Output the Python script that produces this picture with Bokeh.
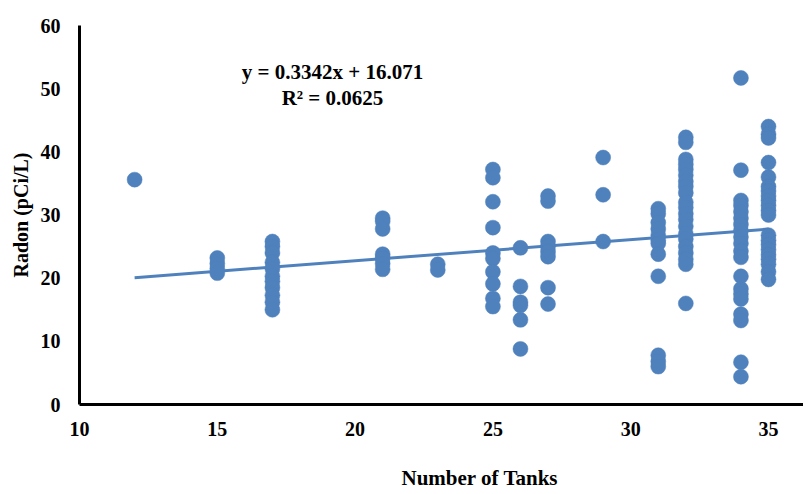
from bokeh.plotting import figure
from bokeh.models import Range1d, Title, Label, FixedTicker
from bokeh.embed import file_html
from bokeh.resources import INLINE

# ---- data ----
tanks = [12, 15, 17, 21, 23, 25, 26, 27, 29, 31, 32, 34, 35]
radon_12 = [35.6]
radon_15 = [23.2, 22.3, 21.5, 20.8]
radon_17 = [25.8, 25.0, 24.0, 22.5, 21.5, 20.3, 19.5, 18.5, 17.3, 16.2, 15.0]
radon_21 = [29.5, 29.0, 27.8, 23.8, 23.2, 22.3, 21.4]
radon_23 = [22.2, 21.3]
radon_25 = [37.2, 35.9, 32.1, 28.0, 24.0, 23.1, 21.0, 19.1, 16.8, 15.5]
radon_26 = [24.8, 18.7, 16.2, 15.7, 13.4, 8.8]
radon_27 = [33.0, 32.2, 25.8, 25.0, 24.2, 23.4, 18.5, 15.9]
radon_29 = [39.1, 33.2, 25.8]
radon_31 = [31.0, 30.2, 28.8, 27.8, 26.8, 26.0, 25.5, 23.8, 20.3, 7.8, 6.8, 6.0]
radon_32 = [42.3, 41.5, 38.8, 38.0, 37.2, 36.3, 35.3, 34.5, 33.5, 32.0, 31.2,
            30.2, 29.3, 28.2, 27.0, 26.2, 25.0, 24.0, 23.0, 22.2, 16.0]
radon_34 = [51.7, 37.1, 32.3, 31.5, 30.5, 29.5, 28.5, 27.5, 26.5, 25.5, 24.3,
            23.3, 20.3, 18.3, 17.5, 16.7, 14.3, 13.3, 6.7, 4.4]
radon_35 = [44.0, 42.8, 42.2, 38.3, 36.0, 34.5, 33.8, 33.0, 32.3, 31.5, 30.7,
            30.0, 26.8, 26.0, 25.3, 24.5, 23.7, 23.0, 22.2, 21.0, 19.8]
radon_groups = [radon_12, radon_15, radon_17, radon_21, radon_23, radon_25, radon_26,
                radon_27, radon_29, radon_31, radon_32, radon_34, radon_35]

slope = 0.3342
intercept = 16.071
equation_text = "y = 0.3342x + 16.071"
r2_text = "R\u00b2 = 0.0625"
x_ticks = [10, 15, 20, 25, 30, 35]
y_ticks = [0, 10, 20, 30, 40, 50, 60]

xs, ys = [], []
for t, g in zip(tanks, radon_groups):
    xs += [t] * len(g)
    ys += g

BLUE = "#4F81BD"
FONT = "Liberation Serif"

p = figure(frame_width=724, frame_height=379,
           x_range=Range1d(10, 36.27), y_range=Range1d(0, 60),
           output_backend="svg", toolbar_location=None,
           min_border_left=79, min_border_right=0, min_border_top=25, min_border_bottom=90)
p.outline_line_color = None
p.background_fill_color = "white"
p.border_fill_color = "white"
p.xgrid.visible = False
p.ygrid.visible = False

# trend line
lx = [min(tanks), max(tanks)]
ly = [slope * v + intercept for v in lx]
p.line(lx, ly, line_color=BLUE, line_width=3)

p.scatter(xs, ys, size=15, marker="circle", fill_color=BLUE, line_color=BLUE, line_width=0.5)

for ax, ticks in ((p.xaxis, x_ticks), (p.yaxis, y_ticks)):
    ax.ticker = FixedTicker(ticks=ticks)
    ax.axis_line_color = "black"
    ax.axis_line_width = 3
    ax.major_tick_line_color = None
    ax.minor_tick_line_color = None
    ax.major_tick_out = 0
    ax.major_tick_in = 0
    ax.major_label_text_font = FONT
    ax.major_label_text_font_style = "bold"
    ax.major_label_text_font_size = "20px"
    ax.major_label_text_color = "black"

p.yaxis.major_label_standoff = 19
p.xaxis.major_label_standoff = 17
p.yaxis.axis_label = "Radon (pCi/L)"
p.yaxis.axis_label_text_font = FONT
p.yaxis.axis_label_text_font_style = "bold"
p.yaxis.axis_label_text_font_size = "20px"
p.yaxis.axis_label_text_color = "black"
p.yaxis.axis_label_standoff = 6

p.add_layout(Title(text="Number of Tanks", align="left", offset=322, standoff=50,
                   text_font=FONT, text_font_style="bold", text_font_size="21px",
                   text_color="black"), "below")

p.add_layout(Label(x=19.18, y=52.6, text=equation_text, text_align="center",
                   text_baseline="middle", text_font=FONT, text_font_style="bold",
                   text_font_size="21px", text_color="black"))
p.add_layout(Label(x=19.18, y=48.6, text=r2_text, text_align="center",
                   text_baseline="middle", text_font=FONT, text_font_style="bold",
                   text_font_size="21px", text_color="black"))

open("out.html", "w").write(file_html(p, INLINE))
